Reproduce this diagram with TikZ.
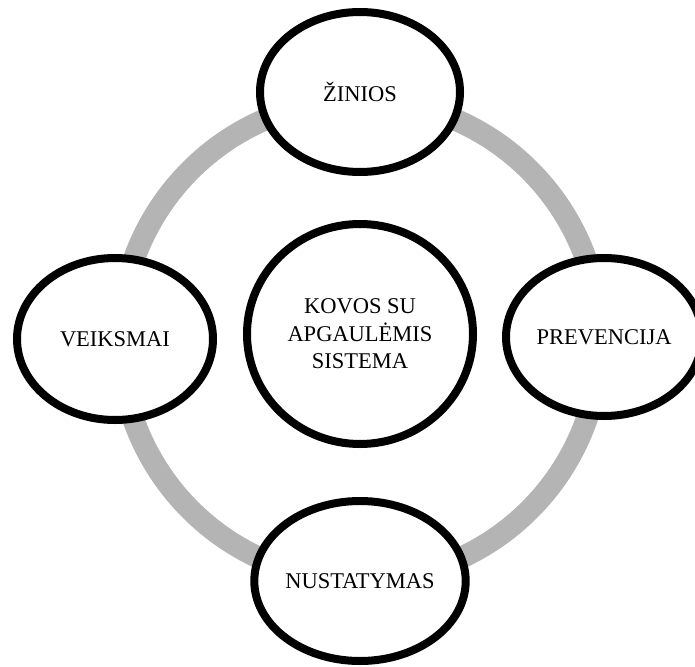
\documentclass[tikz,border=0pt]{standalone}
\usepackage{fontspec}
\setmainfont{Liberation Serif}
\usetikzlibrary{shapes.geometric}

\definecolor{ringgray}{RGB}{180,180,180}

\tikzset{
  ringline/.style={draw=ringgray, line width=22pt},
  bubble/.style={ellipse, draw=black, line width=8pt, fill=white,
    inner sep=0pt, align=center, text=black,
    font=\fontsize{22.5}{27.5}\selectfont},
}

\begin{document}
\begin{tikzpicture}[x=1pt, y=-1pt]
  \useasboundingbox (0,0) rectangle (695,666);

  % grey cycle behind the bubbles
  \draw[ringline] (360,340) circle (240);

  % central bubble
  \node[bubble, minimum width=226pt, minimum height=220pt] (core) at (360,334)
    {KOVOS SU\\APGAULĖMIS\\SISTEMA};

  % bubbles around the cycle
  \node[bubble, minimum width=200pt, minimum height=160pt] (ziniOs) at (360,92) {ŽINIOS};
  \node[bubble, minimum width=196pt, minimum height=162pt] (veiksmai) at (115,339) {VEIKSMAI};
  \node[bubble, minimum width=196pt, minimum height=158pt] (prevencija) at (604,337) {PREVENCIJA};
  \node[bubble, minimum width=196pt, minimum height=160pt] (nustatymas) at (360,581) {NUSTATYMAS};
\end{tikzpicture}
\end{document}
